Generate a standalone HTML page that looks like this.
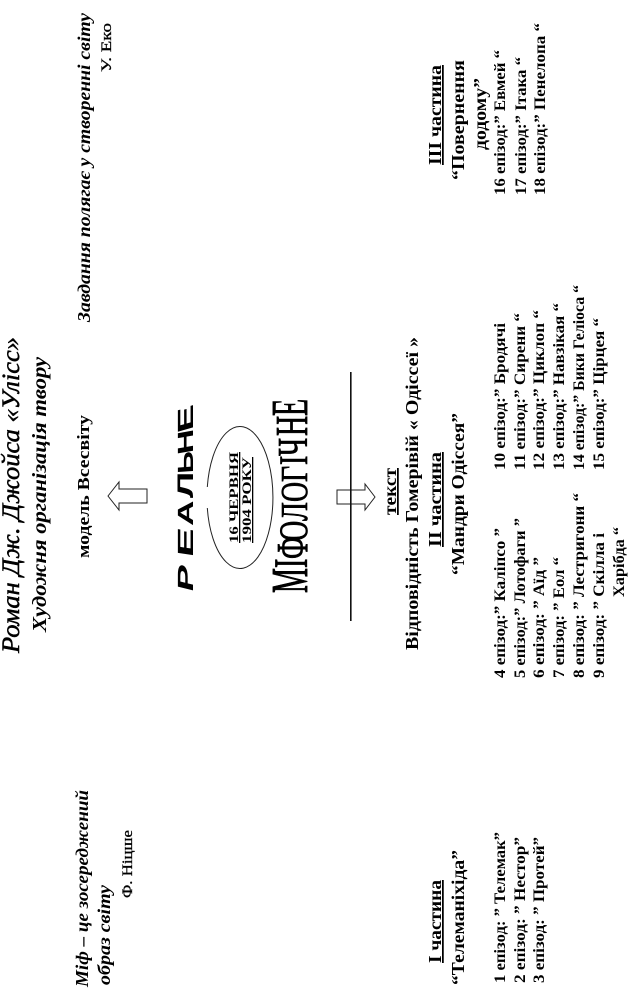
<!DOCTYPE html>
<html><head><meta charset="utf-8"><style>
html,body{margin:0;padding:0;background:#fff;width:633px;height:996px;overflow:hidden}
svg{display:block;filter:blur(.3px)}
text{font-family:"Liberation Serif",serif;font-weight:bold;fill:#000}
.i{font-style:italic}
.u{text-decoration:underline}
.w{font-family:"Liberation Sans",sans-serif;font-size:22px}
.m{font-weight:normal;font-size:40px;stroke:#000;stroke-width:.7px}
</style></head><body>
<svg width="633" height="996" viewBox="0 0 633 996" xmlns="http://www.w3.org/2000/svg">
<!-- header -->
<text class="i" font-size="25" style="font-weight:normal" stroke="#000" stroke-width=".5" transform="translate(19,653) rotate(-90)" textLength="316" lengthAdjust="spacingAndGlyphs">Роман Дж. Джойса «Улісс»</text>
<text class="i" font-size="20" transform="translate(46,632) rotate(-90)" textLength="275" lengthAdjust="spacingAndGlyphs">Художня  організація твору</text>
<text class="i" font-size="18" transform="translate(90,322) rotate(-90)" textLength="309" lengthAdjust="spacingAndGlyphs">Завдання полягає у створенні світу</text>
<text font-size="15" style="font-weight:normal" stroke="#000" stroke-width=".3" transform="translate(111,72) rotate(-90)" textLength="49" lengthAdjust="spacingAndGlyphs">У. Еко</text>
<text font-size="16.5" transform="translate(89,558) rotate(-90)" textLength="143" lengthAdjust="spacingAndGlyphs">модель Всесвіту</text>
<!-- left-hand quote -->
<text class="i" font-size="18" transform="translate(88,987) rotate(-90)" textLength="197" lengthAdjust="spacingAndGlyphs">Міф – це зосереджений</text>
<text class="i" font-size="18" transform="translate(110,985) rotate(-90)" textLength="100" lengthAdjust="spacingAndGlyphs">образ світу</text>
<text font-size="15" style="font-weight:normal" stroke="#000" stroke-width=".3" transform="translate(132,898) rotate(-90)" textLength="68" lengthAdjust="spacingAndGlyphs">Ф. Ніцше</text>
<!-- arrow left -->
<polygon points="108,496 119,482 119,489 147,489 147,503 119,503 119,510" fill="#fff" stroke="#222" stroke-width="1"/>
<!-- wordart РЕАЛЬНЕ -->
<text class="w" transform="translate(193,593) rotate(-90) skewX(-14) scale(1.8,1)">Р</text>
<text class="w" transform="translate(193,558) rotate(-90) skewX(-8) scale(2,1)">Е</text>
<text class="w" transform="translate(193,526) rotate(-90) skewX(-3) scale(1.6,1)">А</text>
<text class="w" transform="translate(193,498) rotate(-90) scale(1.7,1)">Л</text>
<text class="w" transform="translate(193,473) rotate(-90) skewX(4) scale(1.4,1)">Ь</text>
<text class="w" transform="translate(193,453) rotate(-90) skewX(10) scale(1.56,1)">Н</text>
<text class="w" transform="translate(193,430) rotate(-90) skewX(16) scale(1.8,1)">Е</text>
<!-- wordart МІФОЛОГІЧНЕ -->
<text class="m" transform="translate(307,593) rotate(-90) scale(.7,1.3)">М</text>
<text class="m" transform="translate(307,568) rotate(-90) scale(.7,1.2)">І</text>
<text class="m" transform="translate(307,559) rotate(-90) scale(.7,1.1)">Ф</text>
<text class="m" transform="translate(307,541) rotate(-90) scale(.7,1)">О</text>
<text class="m" transform="translate(307,521) rotate(-90) scale(.7,.95)">Л</text>
<text class="m" transform="translate(307,502) rotate(-90) scale(.7,.95)">О</text>
<text class="m" transform="translate(307,482) rotate(-90) scale(.7,.95)">Г</text>
<text class="m" transform="translate(307,465) rotate(-90) scale(.7,1)">І</text>
<text class="m" transform="translate(307,456) rotate(-90) scale(.7,1.05)">Ч</text>
<text class="m" transform="translate(307,436) rotate(-90) scale(.7,1.15)">Н</text>
<text class="m" transform="translate(307,416) rotate(-90) scale(.7,1.3)">Е</text>
<!-- ellipse -->
<path d="M207.3,487 A33,71 0 1 1 207.3,508" fill="none" stroke="#222" stroke-width="1"/>
<text class="u" font-size="13" transform="translate(238,543) rotate(-90)" textLength="91" lengthAdjust="spacingAndGlyphs">16 ЧЕРВНЯ</text>
<text class="u" font-size="13" transform="translate(251,543) rotate(-90)" textLength="86" lengthAdjust="spacingAndGlyphs">1904 РОКУ</text>
<!-- arrow right and line -->
<polygon points="375,497 365,484 365,490 337,490 337,504 365,504 365,510" fill="#fff" stroke="#222" stroke-width="1"/>
<rect x="350" y="372" width="1.6" height="249" fill="#111"/>
<!-- part II headings -->
<text class="u" font-size="17.5" transform="translate(396,515) rotate(-90)" textLength="47" lengthAdjust="spacingAndGlyphs">текст</text>
<text font-size="17.5" transform="translate(418,650) rotate(-90)" textLength="313" lengthAdjust="spacingAndGlyphs">Відповідність  Гомерівій « Одіссеї »</text>
<text class="u" font-size="17.5" transform="translate(441,547) rotate(-90)" textLength="95" lengthAdjust="spacingAndGlyphs">ІІ частина</text>
<text font-size="17.5" transform="translate(464,575) rotate(-90)" textLength="162" lengthAdjust="spacingAndGlyphs">“Мандри Одіссея”</text>
<!-- part II lists -->
<text font-size="15.5" transform="translate(505,678) rotate(-90)" textLength="150" lengthAdjust="spacingAndGlyphs">4 епізод:” Каліпсо ”</text>
<text font-size="15.5" transform="translate(525,678) rotate(-90)" textLength="160" lengthAdjust="spacingAndGlyphs">5 епізод:” Лотофаги ”</text>
<text font-size="15.5" transform="translate(544,678) rotate(-90)" textLength="121" lengthAdjust="spacingAndGlyphs">6 епізод: ” Аїд ”</text>
<text font-size="15.5" transform="translate(564,678) rotate(-90)" textLength="121" lengthAdjust="spacingAndGlyphs">7 епізод: ” Еол “</text>
<text font-size="15.5" transform="translate(584,678) rotate(-90)" textLength="185" lengthAdjust="spacingAndGlyphs">8 епізод: ” Лестригони “</text>
<text font-size="15.5" transform="translate(604,678) rotate(-90)" textLength="145" lengthAdjust="spacingAndGlyphs">9 епізод: ” Скілла і</text>
<text font-size="15.5" transform="translate(624,597) rotate(-90)" textLength="70" lengthAdjust="spacingAndGlyphs">Харібда “</text>
<text font-size="15.5" transform="translate(505,470) rotate(-90)" textLength="147" lengthAdjust="spacingAndGlyphs">10 епізод:” Бродячі</text>
<text font-size="15.5" transform="translate(525,470) rotate(-90)" textLength="157" lengthAdjust="spacingAndGlyphs">11 епізод:” Сирени “</text>
<text font-size="15.5" transform="translate(544,470) rotate(-90)" textLength="160" lengthAdjust="spacingAndGlyphs">12 епізод:” Циклоп “</text>
<text font-size="15.5" transform="translate(564,470) rotate(-90)" textLength="167" lengthAdjust="spacingAndGlyphs">13 епізод:” Навзікая “</text>
<text font-size="15.5" transform="translate(584,470) rotate(-90)" textLength="185" lengthAdjust="spacingAndGlyphs">14 епізод:” Бики Геліоса “</text>
<text font-size="15.5" transform="translate(604,470) rotate(-90)" textLength="152" lengthAdjust="spacingAndGlyphs">15 епізод:” Цірцея “</text>
<!-- part I -->
<text class="u" font-size="17.5" transform="translate(441,963) rotate(-90)" textLength="83" lengthAdjust="spacingAndGlyphs">І частина</text>
<text font-size="17.5" transform="translate(464,985) rotate(-90)" textLength="135" lengthAdjust="spacingAndGlyphs">“Телеманіхіда”</text>
<text font-size="15.5" transform="translate(505,983) rotate(-90)" textLength="151" lengthAdjust="spacingAndGlyphs">1 епізод: ” Телемак”</text>
<text font-size="15.5" transform="translate(525,983) rotate(-90)" textLength="146" lengthAdjust="spacingAndGlyphs">2 епізод: ” Нестор”</text>
<text font-size="15.5" transform="translate(544,983) rotate(-90)" textLength="146" lengthAdjust="spacingAndGlyphs">3 епізод: ” Протей”</text>
<!-- part III -->
<text class="u" font-size="17.5" transform="translate(441,165) rotate(-90)" textLength="100" lengthAdjust="spacingAndGlyphs">ІІІ частина</text>
<text font-size="17.5" transform="translate(464,180) rotate(-90)" textLength="120" lengthAdjust="spacingAndGlyphs">“Повернення</text>
<text font-size="17.5" transform="translate(486,150) rotate(-90)" textLength="72" lengthAdjust="spacingAndGlyphs">додому”</text>
<text font-size="15.5" transform="translate(505,195) rotate(-90)" textLength="145" lengthAdjust="spacingAndGlyphs">16 епізод:” Евмей “</text>
<text font-size="15.5" transform="translate(526,195) rotate(-90)" textLength="138" lengthAdjust="spacingAndGlyphs">17 епізод:” Ітака “</text>
<text font-size="15.5" transform="translate(545,195) rotate(-90)" textLength="172" lengthAdjust="spacingAndGlyphs">18 епізод:” Пенелопа “</text>
</svg>
</body></html>
